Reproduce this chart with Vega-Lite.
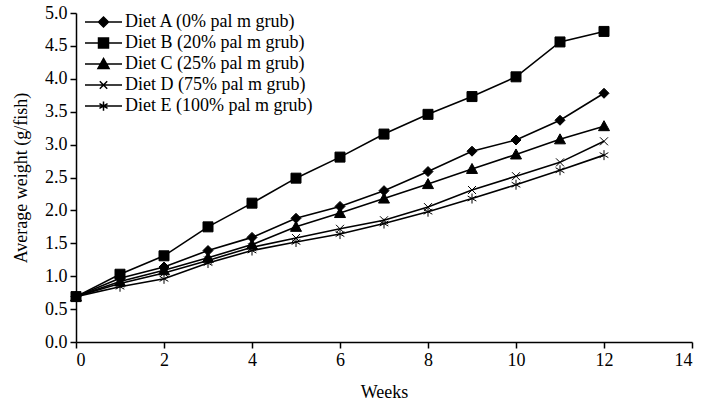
{
  "$schema": "https://vega.github.io/schema/vega-lite/v6.json",
  "width": 616,
  "height": 329,
  "autosize": {"type": "none"},
  "padding": {"left": 76, "top": 13, "right": 12, "bottom": 59},
  "background": "white",
  "config": {
    "view": {"stroke": null},
    "font": "Liberation Serif",
    "axis": {
      "domainColor": "black", "domainWidth": 1.5,
      "tickColor": "black", "tickWidth": 1.5, "tickSize": 6,
      "labelColor": "black", "labelFont": "Liberation Serif", "labelFontSize": 18, "labelPadding": 3,
      "titleColor": "black", "titleFont": "Liberation Serif", "titleFontSize": 18, "titleFontWeight": "normal",
      "grid": false
    }
  },
  "data": {"values": [
    {"week": 0, "diet": "Diet A (0% pal m grub)", "weight": 0.69},
    {"week": 1, "diet": "Diet A (0% pal m grub)", "weight": 0.97},
    {"week": 2, "diet": "Diet A (0% pal m grub)", "weight": 1.14},
    {"week": 3, "diet": "Diet A (0% pal m grub)", "weight": 1.39},
    {"week": 4, "diet": "Diet A (0% pal m grub)", "weight": 1.59},
    {"week": 5, "diet": "Diet A (0% pal m grub)", "weight": 1.88},
    {"week": 6, "diet": "Diet A (0% pal m grub)", "weight": 2.06},
    {"week": 7, "diet": "Diet A (0% pal m grub)", "weight": 2.30},
    {"week": 8, "diet": "Diet A (0% pal m grub)", "weight": 2.59},
    {"week": 9, "diet": "Diet A (0% pal m grub)", "weight": 2.90},
    {"week": 10, "diet": "Diet A (0% pal m grub)", "weight": 3.07},
    {"week": 11, "diet": "Diet A (0% pal m grub)", "weight": 3.37},
    {"week": 12, "diet": "Diet A (0% pal m grub)", "weight": 3.78},
    {"week": 0, "diet": "Diet B (20% pal m grub)", "weight": 0.69},
    {"week": 1, "diet": "Diet B (20% pal m grub)", "weight": 1.03},
    {"week": 2, "diet": "Diet B (20% pal m grub)", "weight": 1.31},
    {"week": 3, "diet": "Diet B (20% pal m grub)", "weight": 1.75},
    {"week": 4, "diet": "Diet B (20% pal m grub)", "weight": 2.11},
    {"week": 5, "diet": "Diet B (20% pal m grub)", "weight": 2.49},
    {"week": 6, "diet": "Diet B (20% pal m grub)", "weight": 2.81},
    {"week": 7, "diet": "Diet B (20% pal m grub)", "weight": 3.16},
    {"week": 8, "diet": "Diet B (20% pal m grub)", "weight": 3.46},
    {"week": 9, "diet": "Diet B (20% pal m grub)", "weight": 3.73},
    {"week": 10, "diet": "Diet B (20% pal m grub)", "weight": 4.03},
    {"week": 11, "diet": "Diet B (20% pal m grub)", "weight": 4.56},
    {"week": 12, "diet": "Diet B (20% pal m grub)", "weight": 4.72},
    {"week": 0, "diet": "Diet C (25% pal m grub)", "weight": 0.69},
    {"week": 1, "diet": "Diet C (25% pal m grub)", "weight": 0.92},
    {"week": 2, "diet": "Diet C (25% pal m grub)", "weight": 1.09},
    {"week": 3, "diet": "Diet C (25% pal m grub)", "weight": 1.28},
    {"week": 4, "diet": "Diet C (25% pal m grub)", "weight": 1.48},
    {"week": 5, "diet": "Diet C (25% pal m grub)", "weight": 1.75},
    {"week": 6, "diet": "Diet C (25% pal m grub)", "weight": 1.96},
    {"week": 7, "diet": "Diet C (25% pal m grub)", "weight": 2.18},
    {"week": 8, "diet": "Diet C (25% pal m grub)", "weight": 2.40},
    {"week": 9, "diet": "Diet C (25% pal m grub)", "weight": 2.63},
    {"week": 10, "diet": "Diet C (25% pal m grub)", "weight": 2.85},
    {"week": 11, "diet": "Diet C (25% pal m grub)", "weight": 3.08},
    {"week": 12, "diet": "Diet C (25% pal m grub)", "weight": 3.28},
    {"week": 0, "diet": "Diet D (75% pal m grub)", "weight": 0.69},
    {"week": 1, "diet": "Diet D (75% pal m grub)", "weight": 0.89},
    {"week": 2, "diet": "Diet D (75% pal m grub)", "weight": 1.05},
    {"week": 3, "diet": "Diet D (75% pal m grub)", "weight": 1.24},
    {"week": 4, "diet": "Diet D (75% pal m grub)", "weight": 1.44},
    {"week": 5, "diet": "Diet D (75% pal m grub)", "weight": 1.58},
    {"week": 6, "diet": "Diet D (75% pal m grub)", "weight": 1.72},
    {"week": 7, "diet": "Diet D (75% pal m grub)", "weight": 1.85},
    {"week": 8, "diet": "Diet D (75% pal m grub)", "weight": 2.05},
    {"week": 9, "diet": "Diet D (75% pal m grub)", "weight": 2.31},
    {"week": 10, "diet": "Diet D (75% pal m grub)", "weight": 2.52},
    {"week": 11, "diet": "Diet D (75% pal m grub)", "weight": 2.73},
    {"week": 12, "diet": "Diet D (75% pal m grub)", "weight": 3.05},
    {"week": 0, "diet": "Diet E (100% pal m grub)", "weight": 0.69},
    {"week": 1, "diet": "Diet E (100% pal m grub)", "weight": 0.84},
    {"week": 2, "diet": "Diet E (100% pal m grub)", "weight": 0.96},
    {"week": 3, "diet": "Diet E (100% pal m grub)", "weight": 1.20},
    {"week": 4, "diet": "Diet E (100% pal m grub)", "weight": 1.39},
    {"week": 5, "diet": "Diet E (100% pal m grub)", "weight": 1.52},
    {"week": 6, "diet": "Diet E (100% pal m grub)", "weight": 1.64},
    {"week": 7, "diet": "Diet E (100% pal m grub)", "weight": 1.80},
    {"week": 8, "diet": "Diet E (100% pal m grub)", "weight": 1.98},
    {"week": 9, "diet": "Diet E (100% pal m grub)", "weight": 2.18},
    {"week": 10, "diet": "Diet E (100% pal m grub)", "weight": 2.39},
    {"week": 11, "diet": "Diet E (100% pal m grub)", "weight": 2.61},
    {"week": 12, "diet": "Diet E (100% pal m grub)", "weight": 2.84}
  ]},
  "encoding": {
    "x": {"field": "week", "type": "quantitative",
          "scale": {"domain": [0, 14], "nice": false},
          "axis": {"title": "Weeks", "values": [0, 2, 4, 6, 8, 10, 12, 14], "labelAngle": 0, "titlePadding": 14}},
    "y": {"field": "weight", "type": "quantitative",
          "scale": {"domain": [0, 5], "nice": false},
          "axis": {"title": "Average weight (g/fish)", "values": [0, 0.5, 1, 1.5, 2, 2.5, 3, 3.5, 4, 4.5, 5], "format": ".1f", "titlePadding": 14}}
  },
  "layer": [
    {
      "mark": {"type": "line", "color": "black", "strokeWidth": 1.6},
      "encoding": {"detail": {"field": "diet", "type": "nominal"}}
    },
    {
      "mark": {"type": "point", "filled": true, "fill": "black", "stroke": "black", "strokeWidth": 1, "size": 100, "opacity": 1},
      "encoding": {
        "shape": {
          "field": "diet", "type": "nominal",
          "scale": {
            "domain": ["Diet A (0% pal m grub)", "Diet B (20% pal m grub)", "Diet C (25% pal m grub)", "Diet D (75% pal m grub)", "Diet E (100% pal m grub)"],
            "range": ["M0,-1L1,0L0,1L-1,0Z", "M-1,-1L1,-1L1,1L-1,1Z", "M0,-1.1L1.1,0.9L-1.1,0.9Z", "M-0.8,-0.8L0.8,0.8M-0.8,0.8L0.8,-0.8", "M0,-1L0,1M-0.87,-0.5L0.87,0.5M-0.87,0.5L0.87,-0.5"]
          },
          "legend": null
        }
      }
    },
    {
      "transform": [{"filter": "datum.week < 0"}],
      "mark": {"type": "point", "filled": true, "fill": "black", "stroke": "black", "strokeWidth": 1.5, "size": 1369, "opacity": 1},
      "encoding": {
        "shape": {
          "field": "diet", "type": "nominal",
          "scale": {
            "domain": ["Diet A (0% pal m grub)", "Diet B (20% pal m grub)", "Diet C (25% pal m grub)", "Diet D (75% pal m grub)", "Diet E (100% pal m grub)"],
            "range": ["M-1,0L1,0M0,-0.27L0.27,0L0,0.27L-0.27,0Z", "M-1,0L1,0M-0.27,-0.27L0.27,-0.27L0.27,0.27L-0.27,0.27Z", "M-1,0L1,0M0,-0.3L0.3,0.24L-0.3,0.24Z", "M-1,0L1,0M-0.2,-0.2L0.2,0.2M-0.2,0.2L0.2,-0.2", "M-1,0L1,0M0,-0.25L0,0.25M-0.22,-0.13L0.22,0.13M-0.22,0.13L0.22,-0.13"]
          },
          "legend": {
            "orient": "none", "legendX": 8, "legendY": -1.5,
            "title": null, "padding": 0,
            "symbolSize": 1369, "symbolStrokeWidth": 1.5, "symbolOffset": 0,
            "labelOffset": 2, "clipHeight": 21, "rowPadding": 0,
            "labelFont": "Liberation Serif", "labelFontSize": 18, "labelColor": "black", "labelLimit": 400,
            "encode": {
              "symbols": {
                "update": {
                  "fill": {"value": "black"},
                  "stroke": {"value": "black"},
                  "strokeWidth": {"value": 1.5},
                  "opacity": {"value": 1}
                }
              }
            }
          }
        }
      }
    }
  ],
  "resolve": {"scale": {"shape": "independent"}}
}
